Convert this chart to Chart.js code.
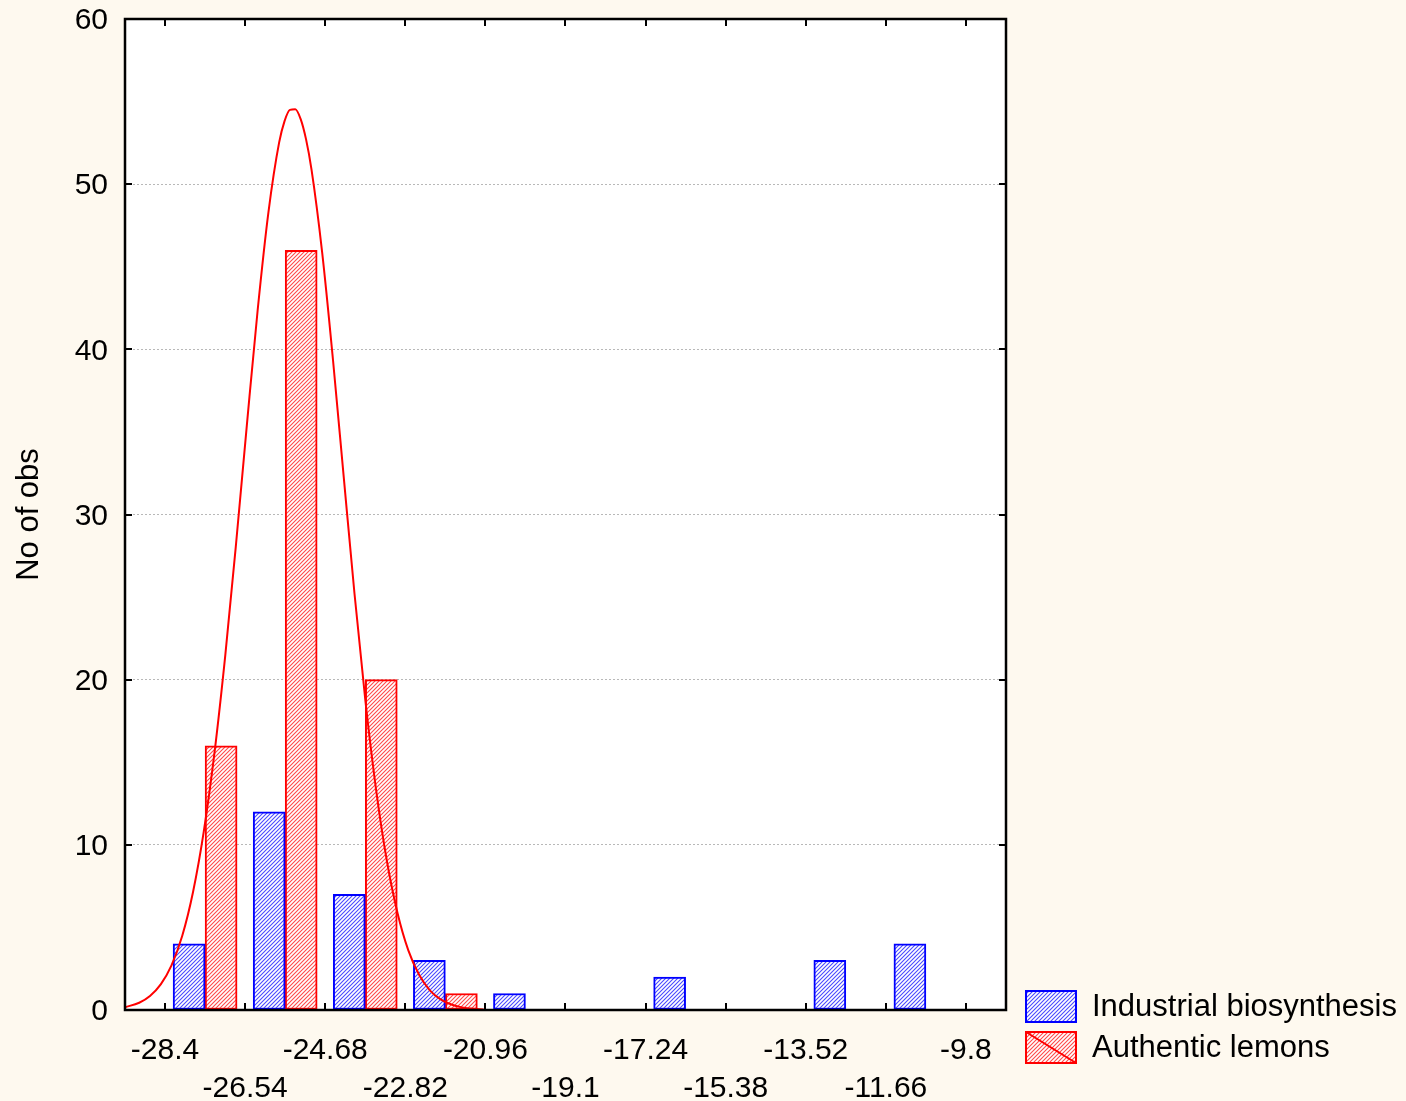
<!DOCTYPE html>
<html>
<head>
<meta charset="utf-8">
<script src="https://cdn.jsdelivr.net/npm/chart.js@4.4.1/dist/chart.umd.min.js"></script>
<style>
  html, body { margin: 0; padding: 0; background: #FEF9EF; }
  #wrap { width: 1406px; height: 1101px; }
</style>
</head>
<body>
<div id="wrap"><canvas id="c" width="1406" height="1101"></canvas></div>
<script>
// Histogram bin edges (tick positions) and their printed labels
const binEdges = [-28.4, -26.54, -24.68, -22.82, -20.96, -19.1, -17.24, -15.38, -13.52, -11.66, -9.8];
const edgeLabels = ['-28.4', '-26.54', '-24.68', '-22.82', '-20.96', '-19.1', '-17.24', '-15.38', '-13.52', '-11.66', '-9.8'];

// Counts per bin
const industrial = [4, 12, 7, 3, 1, 0, 2, 0, 3, 4];
const authentic = [16, 46, 20, 1, 0, 0, 0, 0, 0, 0];

// Fitted normal curve for the authentic lemons
const curveX = [-29.33, -29.0, -28.75, -28.5, -28.25, -28.0, -27.75, -27.5, -27.25, -27.0, -26.75, -26.5, -26.25, -26.0, -25.75, -25.625, -25.5, -25.375, -25.25, -25.125, -25.0, -24.75, -24.5, -24.25, -24.0, -23.75, -23.5, -23.25, -23.0, -22.75, -22.5, -22.25, -22.0, -21.75, -21.5, -21.25, -21.0];
const curveY = [0.17, 0.44, 0.85, 1.55, 2.70, 4.49, 7.14, 10.81, 15.61, 21.50, 28.25, 35.41, 42.35, 48.28, 52.53, 53.82, 54.50, 54.54, 53.94, 52.71, 50.91, 45.84, 39.37, 32.26, 25.20, 18.79, 13.36, 9.05, 5.86, 3.61, 2.13, 1.19, 0.64, 0.33, 0.16, 0.07, 0.03];

const yTicks = [0, 10, 20, 30, 40, 50, 60];
const seriesNames = ['Industrial biosynthesis', 'Authentic lemons'];

const FONT = "'Liberation Sans', Arial, Helvetica, sans-serif";
Chart.defaults.font.family = FONT;
Chart.defaults.color = '#000';

function hatch(color) {
  const p = document.createElement('canvas');
  p.width = 4; p.height = 4;
  const g = p.getContext('2d');
  g.fillStyle = '#fff';
  g.fillRect(0, 0, 4, 4);
  g.strokeStyle = color;
  g.lineWidth = 1.1;
  g.beginPath();
  g.moveTo(-1, 1); g.lineTo(1, -1);
  g.moveTo(-1, 5); g.lineTo(5, -1);
  g.moveTo(3, 5); g.lineTo(5, 3);
  g.stroke();
  return document.getElementById('c').getContext('2d').createPattern(p, 'repeat');
}
const blueFill = hatch('#4a4aff');
const redFill = hatch('#ff4a4a');
const blueLine = '#0000ff';
const redLine = '#ff0000';

const centers = binEdges.slice(0, -1).map((e, i) => (e + binEdges[i + 1]) / 2);
const halfBin = (binEdges[1] - binEdges[0]) / 2;

const framePlugin = {
  id: 'frame',
  beforeDraw(chart) {
    const { ctx, chartArea: a } = chart;
    ctx.save();
    ctx.fillStyle = '#FEF9EF';
    ctx.fillRect(0, 0, chart.width, chart.height);
    ctx.fillStyle = '#ffffff';
    ctx.fillRect(a.left, a.top, a.right - a.left, a.bottom - a.top);
    ctx.restore();
  },
  afterDatasetsDraw(chart) {
    const { ctx, chartArea: a, scales } = chart;
    ctx.save();
    ctx.strokeStyle = '#000';
    ctx.lineWidth = 2;
    ctx.beginPath();
    // inward tick marks on all four sides
    binEdges.forEach(v => {
      const x = Math.round(scales.x.getPixelForValue(v));
      ctx.moveTo(x, a.bottom); ctx.lineTo(x, a.bottom - 7);
      ctx.moveTo(x, a.top); ctx.lineTo(x, a.top + 7);
    });
    yTicks.forEach(v => {
      const y = Math.round(scales.y.getPixelForValue(v));
      ctx.moveTo(a.left, y); ctx.lineTo(a.left + 7, y);
      ctx.moveTo(a.right, y); ctx.lineTo(a.right - 7, y);
    });
    ctx.stroke();
    ctx.lineWidth = 2.5;
    ctx.strokeRect(a.left, a.top, a.right - a.left, a.bottom - a.top);
    ctx.restore();
  },
  afterDraw(chart) {
    // legend in the lower right corner, outside the plot frame
    const { ctx, chartArea: a } = chart;
    const fills = [blueFill, redFill];
    const lines = [blueLine, redLine];
    const bx = a.right + 20, bw = 50, bh = 31, gap = 41;
    const top0 = a.bottom - 19;
    ctx.save();
    ctx.font = "31px " + FONT;
    ctx.textBaseline = 'middle';
    ctx.textAlign = 'left';
    seriesNames.forEach((name, i) => {
      const y = top0 + i * gap;
      ctx.fillStyle = fills[i];
      ctx.fillRect(bx, y, bw, bh);
      ctx.strokeStyle = lines[i];
      ctx.lineWidth = 2;
      ctx.strokeRect(bx, y, bw, bh);
      if (i === 1) {
        ctx.beginPath();
        ctx.moveTo(bx, y);
        ctx.lineTo(bx + bw, y + bh);
        ctx.stroke();
      }
      ctx.fillStyle = '#000';
      ctx.fillText(name, bx + bw + 16, y + bh / 2 + 1);
    });
    ctx.restore();
  }
};

new Chart(document.getElementById('c'), {
  data: {
    datasets: [
      {
        type: 'bar',
        label: seriesNames[0],
        data: centers.map((x, i) => ({ x, y: industrial[i] })),
        backgroundColor: blueFill,
        borderColor: blueLine,
        borderWidth: 2,
        borderSkipped: false,
        barThickness: 32,
        order: 2
      },
      {
        type: 'bar',
        label: seriesNames[1],
        data: centers.map((x, i) => ({ x, y: authentic[i] })),
        backgroundColor: redFill,
        borderColor: redLine,
        borderWidth: 2,
        borderSkipped: false,
        barThickness: 32,
        order: 2
      },
      {
        type: 'line',
        label: 'Normal fit',
        data: curveX.map((x, i) => ({ x, y: curveY[i] })),
        borderColor: redLine,
        borderWidth: 2,
        pointRadius: 0,
        cubicInterpolationMode: 'monotone',
        fill: false,
        order: 1
      }
    ]
  },
  options: {
    responsive: false,
    animation: false,
    devicePixelRatio: 1,
    layout: { padding: { top: 19, left: 0, right: 400, bottom: 0 } },
    scales: {
      x: {
        type: 'linear',
        offset: false,
        min: binEdges[0] - halfBin,
        max: binEdges[binEdges.length - 1] + halfBin,
        grid: { display: false, drawTicks: false, offset: false },
        border: { display: false },
        afterBuildTicks(scale) { scale.ticks = binEdges.map(v => ({ value: v })); },
        afterFit(scale) { scale.height = 91; scale.paddingLeft = 0; scale.paddingRight = 0; },
        ticks: {
          autoSkip: false,
          maxRotation: 0,
          minRotation: 0,
          padding: 22,
          color: '#000',
          font: { size: 30, lineHeight: 38 / 30 },
          callback(value, index) {
            return index % 2 === 0 ? [edgeLabels[index], ''] : ['', edgeLabels[index]];
          }
        }
      },
      y: {
        min: 0,
        max: 60,
        grid: { color: '#b8b8b8', borderDash: [2, 2], lineWidth: 1, drawTicks: false },
        border: { display: false, dash: [2, 2] },
        afterFit(scale) { scale.width = 125; scale.paddingTop = 0; scale.paddingBottom = 0; },
        ticks: { stepSize: 10, padding: 17, labelOffset: 2, color: '#000', font: { size: 30 } },
        title: { display: true, text: 'No of obs', color: '#000', font: { size: 31 }, padding: { top: 11, bottom: 0 } }
      }
    },
    plugins: {
      legend: { display: false },
      tooltip: { enabled: false }
    }
  },
  plugins: [framePlugin]
});
</script>
</body>
</html>
